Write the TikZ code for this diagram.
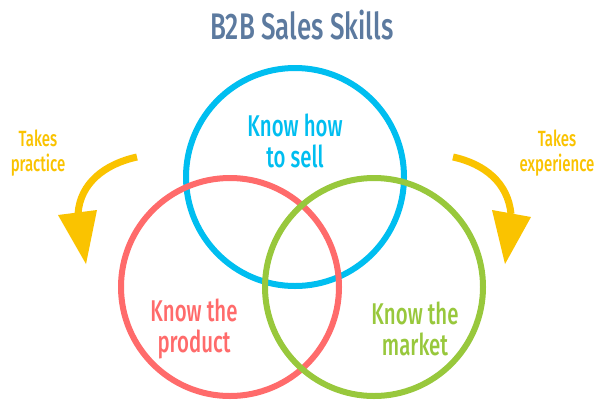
\documentclass[tikz,border=0pt]{standalone}
\usepackage{fontspec}
\setmainfont{Fira Sans Medium}[FakeStretch=0.68]
\newfontfamily\titlefont{Fira Sans Medium}[FakeStretch=0.7]
\definecolor{skyc}{HTML}{00BEF0}
\definecolor{redc}{HTML}{FF6B6B}
\definecolor{greenc}{HTML}{98C83C}
\definecolor{yelc}{HTML}{FAC300}
\definecolor{titlec}{HTML}{5C7A9F}
\tikzset{
  ring/.style={draw=#1, line width=6pt, circle, minimum size=218pt, inner sep=0pt},
  biglabel/.style={text=#1, align=center, font=\fontsize{30}{31}\selectfont, inner sep=0pt},
  sidelabel/.style={text=yelc, align=center, font=\fontsize{22}{25}\selectfont, inner sep=0pt},
  shaft/.style={draw=yelc, line width=7pt},
  tiphead/.style={fill=yelc, draw=none}
}
\begin{document}
\begin{tikzpicture}[x=1pt,y=-1pt]
\useasboundingbox (0,0) rectangle (607,413);
\fill[white] (0,0) rectangle (607,413);
\node[text=titlec, font=\titlefont\fontsize{37}{38}\selectfont, inner sep=0pt] (title) at (302,25) {B2B Sales Skills};
\node[ring=skyc] (sell) at (295,177) {};
\node[ring=redc] (product) at (230,287) {};
\node[ring=greenc] (market) at (374,287) {};
\node[biglabel=skyc] (selltxt) at (295,141) {Know how\\to sell};
\node[biglabel=redc] (prodtxt) at (194,329) {Know the\\product};
\node[biglabel=greenc] (markettxt) at (415,329) {Know the\\market};
\node[sidelabel] (practice) at (38,153) {Takes\\practice};
\node[sidelabel] (experience) at (557,153) {Takes\\experience};
% left arrow
\coordinate (ls) at (137,157);
\coordinate (le) at (78,214);
\draw[shaft] (ls) .. controls (105,164) and (80,183) .. (le);
\fill[tiphead] (58,215) -- (97,210) -- (86,264) -- cycle;
% right arrow
\coordinate (rs) at (453,157);
\coordinate (re) at (511,214);
\draw[shaft] (rs) .. controls (485,164) and (508,183) .. (re);
\fill[tiphead] (492,210) -- (531,217) -- (505,264) -- cycle;
\end{tikzpicture}
\end{document}
